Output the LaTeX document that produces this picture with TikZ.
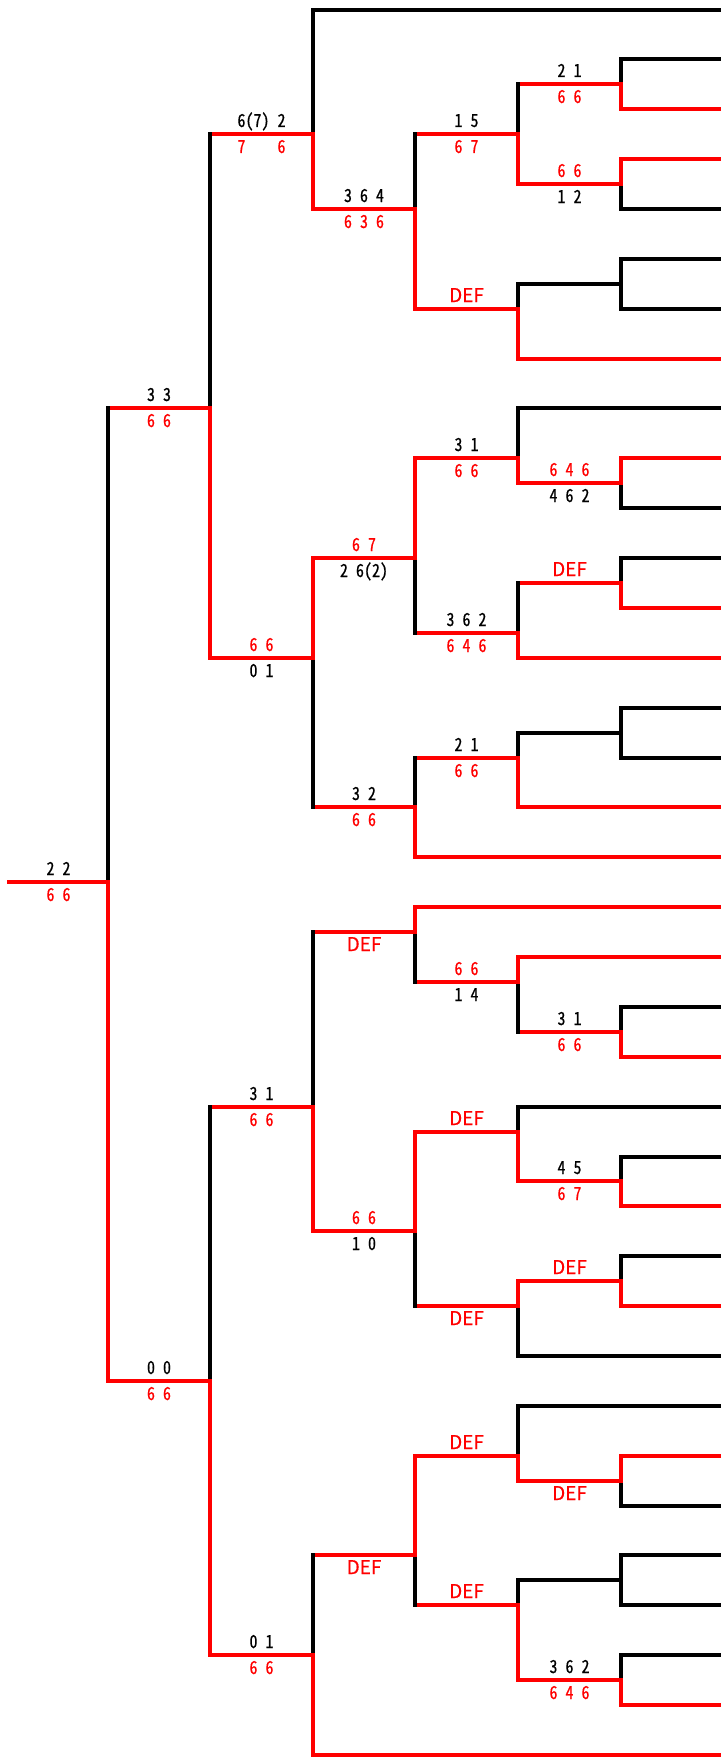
\documentclass[tikz,border=0pt]{standalone}
\usepackage{fontspec}
\newfontfamily\lblfont[RawFeature=+hwid,FakeStretch=0.89,FakeBold=0.5]{Noto Sans CJK JP}
\newfontfamily\deffont[FakeBold=0.5]{Noto Sans CJK JP}
\definecolor{wred}{HTML}{FF0000}
\newcommand\lblsetup{\lblfont\fontsize{18}{18}\selectfont\spaceskip=8pt\relax}
\newcommand\defsetup{\deffont\fontsize{19}{19}\selectfont}
% coordinate of a match point: name, level (0 = root column), row
\newcommand\Pnt[3]{\coordinate (#1) at ({int(108+102.6*#2)},{round(9.5+49.87*#3)});}
% connector: child, parent, colour of horizontal, colour of vertical
\newcommand\Edg[4]{\draw[#3] (#1) -- (#1 -| #2) coordinate[pos=0.5] (m-#1); \draw[#4] (#1 -| #2) -- (#2);}
% labels above / below a horizontal
\newcommand\Top[3][]{\node[lbl,#1] (t-#2) at ([yshift=7pt]m-#2) {#3};}
\newcommand\Bot[3][]{\node[lbl,#1] (b-#2) at ([yshift=-19pt]m-#2) {#3};}
\begin{document}
\begin{tikzpicture}[x=1pt,y=-1pt,line width=4pt,line cap=rect,
  R/.style={draw=wred}, K/.style={draw=black},
  lbl/.style={inner sep=0pt,anchor=base,text=black,font=\lblsetup},
  rt/.style={text=wred},
  def/.style={text=wred,font=\defsetup}]
\useasboundingbox (0,0) rectangle (720,1758);
% leaves
\foreach \i in {0,...,35} {\coordinate (l\i) at (724,{round(9.5+49.87*\i)});}
% level 5
\Pnt{a1}{5}{1.5}\Pnt{a2}{5}{3.5}\Pnt{a3}{5}{5.5}\Pnt{a4}{5}{9.5}
\Pnt{a5}{5}{11.5}\Pnt{a6}{5}{14.5}\Pnt{a7}{5}{20.5}\Pnt{a8}{5}{23.5}
\Pnt{a9}{5}{25.5}\Pnt{a10}{5}{29.5}\Pnt{a11}{5}{31.5}\Pnt{a12}{5}{33.5}
% level 4
\Pnt{b1}{4}{2.5}\Pnt{b2}{4}{6}\Pnt{b3}{4}{9}\Pnt{b4}{4}{12.5}\Pnt{b5}{4}{15}
\Pnt{b6}{4}{19.5}\Pnt{b7}{4}{22.5}\Pnt{b8}{4}{26}\Pnt{b9}{4}{29}\Pnt{b10}{4}{32}
% level 3
\Pnt{c1}{3}{4}\Pnt{c2}{3}{11}\Pnt{c3}{3}{16}\Pnt{c4}{3}{18.5}\Pnt{c5}{3}{24.5}\Pnt{c6}{3}{31}
% level 2
\Pnt{d1}{2}{2.5}\Pnt{d2}{2}{13}\Pnt{d3}{2}{22}\Pnt{d4}{2}{33}
% level 1
\Pnt{e1}{1}{8}\Pnt{e2}{1}{27.5}
% root
\Pnt{r}{0}{17.5}
\coordinate (s) at (9,{round(9.5+49.87*17.5)});
% ---- leaves to first matches
\Edg{l0}{d1}{K}{K}
\Edg{l1}{a1}{K}{K}\Edg{l2}{a1}{R}{R}
\Edg{l3}{a2}{R}{R}\Edg{l4}{a2}{K}{K}
\Edg{l5}{a3}{K}{K}\Edg{l6}{a3}{K}{K}
\Edg{l7}{b2}{R}{R}\Edg{l8}{b3}{K}{K}
\Edg{l9}{a4}{R}{R}\Edg{l10}{a4}{K}{K}
\Edg{l11}{a5}{K}{K}\Edg{l12}{a5}{R}{R}
\Edg{l13}{b4}{R}{R}
\Edg{l14}{a6}{K}{K}\Edg{l15}{a6}{K}{K}
\Edg{l16}{b5}{R}{R}\Edg{l17}{c3}{R}{R}
\Edg{l18}{c4}{R}{R}\Edg{l19}{b6}{R}{R}
\Edg{l20}{a7}{K}{K}\Edg{l21}{a7}{R}{R}
\Edg{l22}{b7}{K}{K}
\Edg{l23}{a8}{K}{K}\Edg{l24}{a8}{R}{R}
\Edg{l25}{a9}{K}{K}\Edg{l26}{a9}{R}{R}
\Edg{l27}{b8}{K}{K}\Edg{l28}{b9}{K}{K}
\Edg{l29}{a10}{R}{R}\Edg{l30}{a10}{K}{K}
\Edg{l31}{a11}{K}{K}\Edg{l32}{a11}{K}{K}
\Edg{l33}{a12}{K}{K}\Edg{l34}{a12}{R}{R}
\Edg{l35}{d4}{R}{R}
% ---- level 5 to level 4
\Edg{a1}{b1}{R}{K}\Edg{a2}{b1}{R}{R}
\Edg{a3}{b2}{K}{K}\Edg{a4}{b3}{R}{R}
\Edg{a5}{b4}{R}{K}\Edg{a6}{b5}{K}{K}
\Edg{a7}{b6}{R}{K}\Edg{a8}{b7}{R}{R}
\Edg{a9}{b8}{R}{R}\Edg{a10}{b9}{R}{R}
\Edg{a11}{b10}{K}{K}\Edg{a12}{b10}{R}{R}
% ---- level 4 to level 3
\Edg{b1}{c1}{R}{K}\Edg{b2}{c1}{R}{R}
\Edg{b3}{c2}{R}{R}\Edg{b4}{c2}{R}{K}
\Edg{b5}{c3}{R}{K}\Edg{b6}{c4}{R}{K}
\Edg{b7}{c5}{R}{R}\Edg{b8}{c5}{R}{K}
\Edg{b9}{c6}{R}{R}\Edg{b10}{c6}{R}{K}
% ---- level 3 to level 2
\Edg{c1}{d1}{R}{R}\Edg{c2}{d2}{R}{R}\Edg{c3}{d2}{R}{K}
\Edg{c4}{d3}{R}{K}\Edg{c5}{d3}{R}{R}\Edg{c6}{d4}{R}{K}
% ---- level 2 to level 1
\Edg{d1}{e1}{R}{K}\Edg{d2}{e1}{R}{R}
\Edg{d3}{e2}{R}{K}\Edg{d4}{e2}{R}{R}
% ---- level 1 to root
\Edg{e1}{r}{R}{K}\Edg{e2}{r}{R}{R}
\draw[R] (s) -- (r) coordinate[pos=0.5] (m-s);
% ---- labels
\Top{a1}{2 1}\Bot[rt]{a1}{6 6}
\Top[rt]{a2}{6 6}\Bot{a2}{1 2}
\Top[rt]{a4}{6 4 6}\Bot{a4}{4 6 2}
\Top[def]{a5}{DEF}
\Top{b1}{1 5}\Bot[rt]{b1}{6 7}
\Top[def]{b2}{DEF}
\Top{b3}{3 1}\Bot[rt]{b3}{6 6}
\Top{b4}{3 6 2}\Bot[rt]{b4}{6 4 6}
\Top{b5}{2 1}\Bot[rt]{b5}{6 6}
\Top{c1}{3 6 4}\Bot[rt]{c1}{6 3 6}
\Top[rt]{c2}{6 7}\Bot{c2}{2 6(2)}
\Top{c3}{3 2}\Bot[rt]{c3}{6 6}
\Top{d1}{6(7) 2}\Bot[rt]{d1}{7\hspace{32pt}6}
\Top[rt]{d2}{6 6}\Bot{d2}{0 1}
\Top{e1}{3 3}\Bot[rt]{e1}{6 6}
\Top{s}{2 2}\Bot[rt]{s}{6 6}
\Top{a7}{3 1}\Bot[rt]{a7}{6 6}
\Top{a8}{4 5}\Bot[rt]{a8}{6 7}
\Top[def]{a9}{DEF}
\Bot[def]{a10}{DEF}
\Top{a12}{3 6 2}\Bot[rt]{a12}{6 4 6}
\Top[rt]{b6}{6 6}\Bot{b6}{1 4}
\Top[def]{b7}{DEF}
\Bot[def]{b8}{DEF}
\Top[def]{b9}{DEF}
\Top[def]{b10}{DEF}
\Bot[def]{c4}{DEF}
\Top[rt]{c5}{6 6}\Bot{c5}{1 0}
\Bot[def]{c6}{DEF}
\Top{d3}{3 1}\Bot[rt]{d3}{6 6}
\Top{d4}{0 1}\Bot[rt]{d4}{6 6}
\Top{e2}{0 0}\Bot[rt]{e2}{6 6}
\end{tikzpicture}
\end{document}
